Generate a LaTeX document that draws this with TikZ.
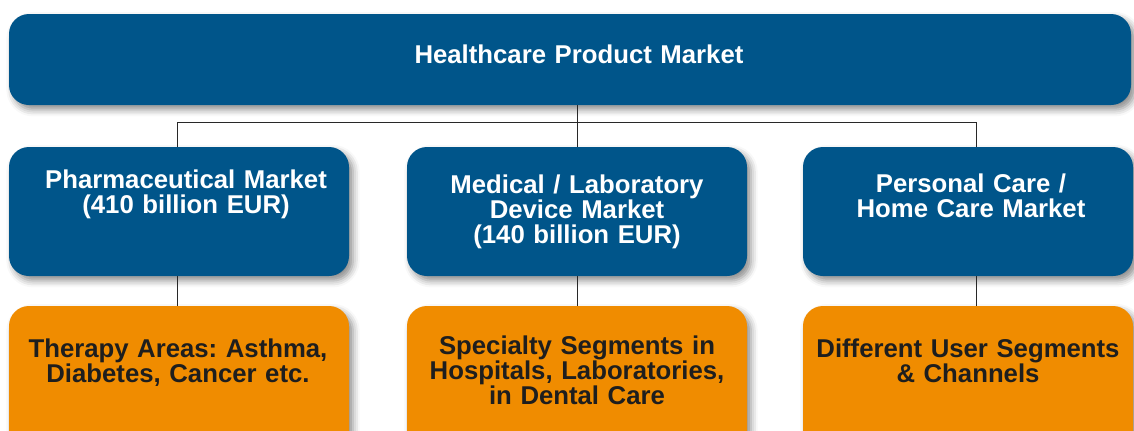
\documentclass[tikz,border=0pt]{standalone}
\usepackage{fontspec}
\setmainfont{Liberation Sans}
\frenchspacing
\usetikzlibrary{shadows.blur}
\definecolor{marketblue}{RGB}{0,85,138}
\definecolor{segorange}{RGB}{240,140,0}
\definecolor{darktext}{RGB}{30,30,30}
\definecolor{linkgray}{RGB}{40,40,40}
\begin{document}
\begin{tikzpicture}[x=0.75pt,y=-0.75pt,
  box/.style={rectangle, rounded corners=15pt, draw=none, inner sep=0pt,
    blur shadow={shadow xshift=3pt, shadow yshift=-3.5pt, shadow blur radius=5pt,
      shadow opacity=45}},
  bluebox/.style={box, fill=marketblue},
  orangebox/.style={box, fill=segorange},
  label/.style={inner sep=0pt, anchor=base, align=center, text width=260pt,
    font=\bfseries\fontsize{19.3}{18.9}\selectfont},
  bluetext/.style={label, text=white},
  orangetext/.style={label, text=darktext},
  conn/.style={draw=linkgray, line width=0.7pt}
]
\useasboundingbox (0,0) rectangle (1134,430);
\clip (0,0) rectangle (1134,430);

% top level
\node[bluebox, minimum width=841.5pt, minimum height=68.25pt] (market) at (570,59.5) {};

% market segments
\node[bluebox, minimum width=255pt, minimum height=96.75pt] (pharma) at (179,211.5) {};
\node[bluebox, minimum width=255pt, minimum height=96.75pt] (medical) at (577,211.5) {};
\node[bluebox, minimum width=247.5pt, minimum height=96.75pt] (personal) at (968,211.5) {};

% sub-segments (running off the lower edge)
\node[orangebox, minimum width=255pt, minimum height=123pt] (therapy) at (179,388) {};
\node[orangebox, minimum width=255pt, minimum height=123pt] (specialty) at (577,388) {};
\node[orangebox, minimum width=247.5pt, minimum height=123pt] (users) at (968,388) {};

% connectors
\draw[conn] (market.south -| medical.north) -- (medical.north);
\draw[conn] ([xshift=-1.5pt]pharma.north) -- ++(0,-24) -| ([xshift=6pt]personal.north);
\draw[conn] ([xshift=-1.5pt]pharma.south) -- ([xshift=-1.5pt]therapy.north);
\draw[conn] (medical.south) -- (specialty.north);
\draw[conn] ([xshift=6pt]personal.south) -- ([xshift=6pt]users.north);

% labels
\node[bluetext] (market-t) at (579,63) {Healthcare Product Market};
\node[bluetext] (pharma-t) at (186,188) {Pharmaceutical Market\\(410 billion EUR)};
\node[bluetext] (medical-t) at (577,193) {Medical / Laboratory\\Device Market\\(140 billion EUR)};
\node[bluetext] (personal-t) at (971,192) {Personal Care /\\Home Care Market};
\node[orangetext] (therapy-t) at (178,357) {Therapy Areas: Asthma,\\Diabetes, Cancer etc.};
\node[orangetext] (specialty-t) at (577,354) {Specialty Segments in\\Hospitals, Laboratories,\\in Dental Care};
\node[orangetext] (users-t) at (968,357) {Different User Segments\\\& Channels};
\end{tikzpicture}
\end{document}
